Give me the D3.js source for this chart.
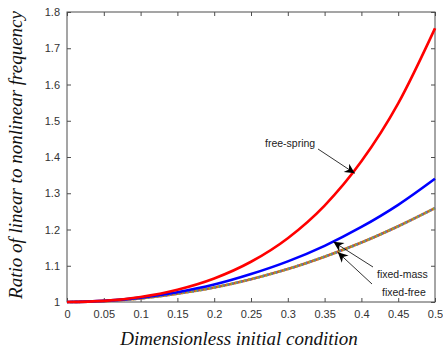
<!DOCTYPE html>
<html>
<head>
<meta charset="utf-8">
<script src="https://cdn.jsdelivr.net/npm/d3@7"></script>
<style>
  body { margin: 0; background: #fff; }
  svg { display: block; }
</style>
</head>
<body>
<svg id="chart"></svg>
<script>
// x values (dimensionless initial condition)
const xValues = [0, 0.05, 0.1, 0.15, 0.2, 0.25, 0.3, 0.35, 0.4, 0.45, 0.5];
// ratio of linear to nonlinear frequency
const freeSpring = [1, 1.003, 1.014, 1.034, 1.065, 1.111, 1.176, 1.266, 1.388, 1.548, 1.755];
const fixedMass = [1, 1.003, 1.012, 1.027, 1.048, 1.077, 1.112, 1.155, 1.207, 1.268, 1.34];
const fixedFree = [1, 1.0025, 1.010, 1.023, 1.040, 1.063, 1.091, 1.125, 1.164, 1.209, 1.259];

const xTicks = [0, 0.05, 0.1, 0.15, 0.2, 0.25, 0.3, 0.35, 0.4, 0.45, 0.5];
const yTicks = [1, 1.1, 1.2, 1.3, 1.4, 1.5, 1.6, 1.7, 1.8];

const dimensions = {
  width: 443,
  height: 349,
  margin: { top: 12, bottom: 47, right: 8, left: 67 },
};
const innerW = dimensions.width - dimensions.margin.left - dimensions.margin.right;
const innerH = dimensions.height - dimensions.margin.top - dimensions.margin.bottom;

const svg = d3
  .select("#chart")
  .attr("width", dimensions.width)
  .attr("height", dimensions.height);

const g = svg
  .append("g")
  .attr("transform", "translate(" + dimensions.margin.left + "," + dimensions.margin.top + ")");

const xScale = d3.scaleLinear().domain([0, 0.5]).range([0, innerW]);
const yScale = d3.scaleLinear().domain([1, 1.8]).range([innerH, 0]);

// arrowhead
svg
  .append("defs")
  .append("marker")
  .attr("id", "arrow")
  .attr("viewBox", "0 0 10 10")
  .attr("refX", 10)
  .attr("refY", 5)
  .attr("markerWidth", 14)
  .attr("markerHeight", 10)
  .attr("markerUnits", "userSpaceOnUse")
  .attr("orient", "auto")
  .append("path")
  .attr("d", "M0,0 L10,5 L0,10 L3,5 Z")
  .attr("fill", "#000");

// axes, MATLAB-like box with inward ticks
const axisColor = "#4d4d4d";
function styleAxis(sel) {
  sel.select(".domain").remove();
  sel.selectAll("line").attr("stroke", axisColor);
  sel.selectAll("text")
    .attr("fill", "#333")
    .style("font-family", "'Liberation Sans', Arial, sans-serif")
    .style("font-size", "11px");
}

g.append("g")
  .attr("transform", "translate(0," + innerH + ")")
  .call(d3.axisBottom(xScale).tickValues(xTicks).tickSizeInner(-4).tickSizeOuter(0).tickPadding(8)
    .tickFormat((d) => d3.format("~g")(d)))
  .call(styleAxis);

g.append("g")
  .call(d3.axisTop(xScale).tickValues(xTicks).tickSizeInner(-4).tickSizeOuter(0).tickFormat(""))
  .call(styleAxis);

g.append("g")
  .call(d3.axisLeft(yScale).tickValues(yTicks).tickSizeInner(-4).tickSizeOuter(0).tickPadding(7)
    .tickFormat((d) => d3.format("~g")(d)))
  .call(styleAxis);

g.append("g")
  .attr("transform", "translate(" + innerW + ",0)")
  .call(d3.axisRight(yScale).tickValues(yTicks).tickSizeInner(-4).tickSizeOuter(0).tickFormat(""))
  .call(styleAxis);

g.append("rect")
  .attr("width", innerW)
  .attr("height", innerH)
  .attr("fill", "none")
  .attr("stroke", axisColor)
  .attr("stroke-width", 1);

// lines
const line = (vals) =>
  d3.line()
    .x((d, i) => xScale(xValues[i]))
    .y((d) => yScale(d))
    .curve(d3.curveMonotoneX)(vals);

// fixed-free: overlapping dotted coloured lines
g.append("path").attr("d", line(fixedFree)).attr("fill", "none")
  .attr("stroke", "#d95319").attr("stroke-width", 2.6);
g.append("path").attr("d", line(fixedFree)).attr("fill", "none")
  .attr("stroke", "#4f7fc0").attr("stroke-width", 2.6).attr("stroke-dasharray", "1.5,3");
g.append("path").attr("d", line(fixedFree)).attr("fill", "none")
  .attr("stroke", "#8fae3c").attr("stroke-width", 2.6).attr("stroke-dasharray", "1.5,3")
  .attr("stroke-dashoffset", 1.5);

g.append("path").attr("d", line(fixedMass)).attr("fill", "none")
  .attr("stroke", "#0000ff").attr("stroke-width", 2.6);

g.append("path").attr("d", line(freeSpring)).attr("fill", "none")
  .attr("stroke", "#ff0000").attr("stroke-width", 2.6);

// annotations
const labelFont = "'Liberation Sans', Arial, sans-serif";
function annotate(text, tx, ty, x0, y0, px, py) {
  g.append("text")
    .attr("x", tx).attr("y", ty)
    .style("font-family", labelFont)
    .style("font-size", "10.5px")
    .attr("fill", "#222")
    .text(text);
  g.append("line")
    .attr("x1", x0).attr("y1", y0)
    .attr("x2", xScale(px)).attr("y2", yScale(py))
    .attr("stroke", "#000")
    .attr("stroke-width", 0.8)
    .attr("marker-end", "url(#arrow)");
}
annotate("free-spring", 198, 135, 251, 137, 0.391, 1.355);
annotate("fixed-mass", 310, 266, 306, 255, 0.362, 1.166);
annotate("fixed-free", 315, 284, 305, 272, 0.368, 1.137);

// axis titles
svg.append("text")
  .attr("transform", "translate(22,155) rotate(-90)")
  .attr("text-anchor", "middle")
  .style("font-family", "'Liberation Serif', 'Times New Roman', serif")
  .style("font-style", "italic")
  .style("font-size", "19px")
  .attr("fill", "#111")
  .text("Ratio of linear to nonlinear frequency");

svg.append("text")
  .attr("x", 239)
  .attr("y", 345)
  .attr("text-anchor", "middle")
  .style("font-family", "'Liberation Serif', 'Times New Roman', serif")
  .style("font-style", "italic")
  .style("font-size", "19px")
  .attr("fill", "#111")
  .text("Dimensionless initial condition");
</script>
</body>
</html>
